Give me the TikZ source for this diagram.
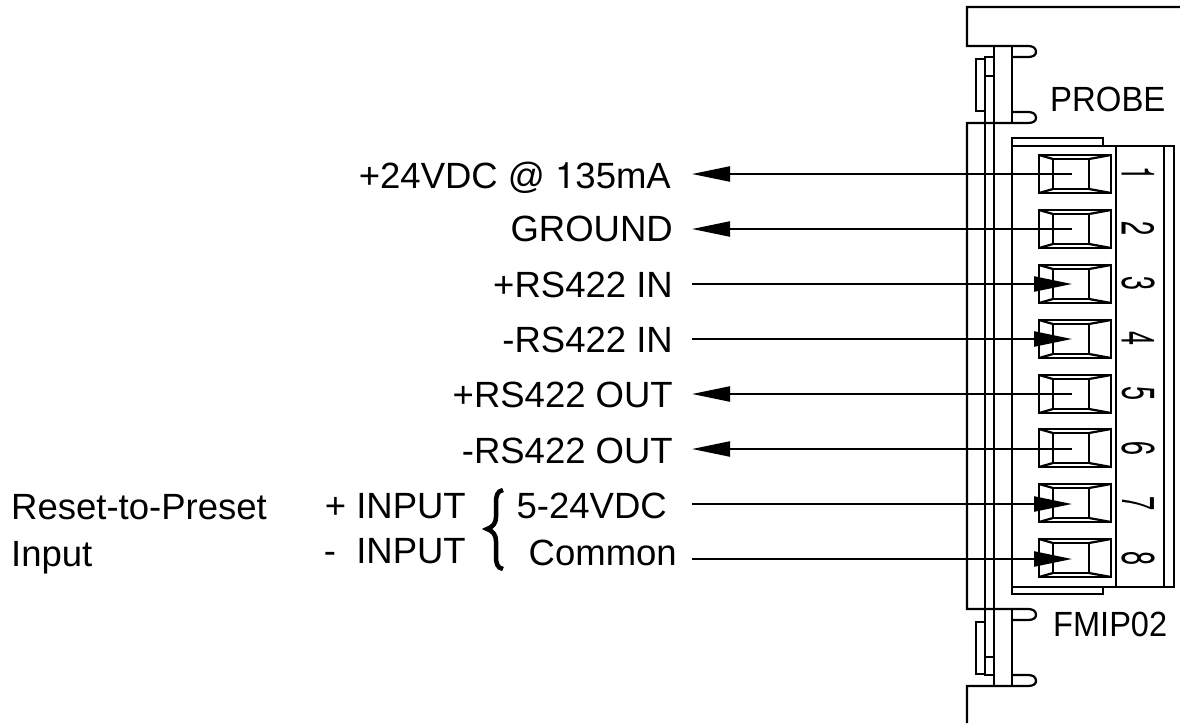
\documentclass[tikz,border=0pt]{standalone}
\usepackage{fontspec}
\setmainfont{Liberation Sans}
\newfontfamily\heros{TeX Gyre Heros}
\usetikzlibrary{arrows.meta}
\def\terminal#1{\begin{scope}[shift={(0,#1)}]
   \draw[part] (1039,0) rectangle (1111,38);
   \draw[part] (1053,4) rectangle (1089,34);
   \draw[part] (1039,0) -- (1053,4) (1111,0) -- (1089,4) (1039,38) -- (1053,34) (1111,38) -- (1089,34);
   \end{scope}}
\tikzset{part/.style={line width=2.2pt},
   wire/.style={line width=2.2pt},
   inarrow/.style={-{Triangle[length=38pt,width=15pt]}},
   lab/.style={anchor=base east,inner sep=0pt,font=\fontsize{36.5}{40}\selectfont},
   labl/.style={anchor=base west,inner sep=0pt,font=\fontsize{36.5}{40}\selectfont},
   board/.style={anchor=base west,inner sep=0pt,font=\fontsize{35}{38}\selectfont},
   digit/.style={rotate=-90,inner sep=0pt,font=\heros\fontsize{46}{48}\selectfont}}

\begin{document}
\begin{tikzpicture}[x=1pt,y=-1pt]
\useasboundingbox (0,0) rectangle (1180,723);
%
\draw[part] (1180,7) -- (967,7) -- (967,46) -- (1028,46) .. controls (1033,46) and (1036,48) .. (1036,52) .. controls (1036,55) and (1033,57) .. (1028,57) -- (1012,57);
\draw[part] (1012,112) -- (1028,112) .. controls (1033,112) and (1036,114) .. (1036,118) .. controls (1036,121) and (1033,123) .. (1028,123) -- (967,123) -- (967,609) -- (1028,609) .. controls (1033,609) and (1036,611) .. (1036,615) .. controls (1036,618) and (1033,620) .. (1028,620) -- (1012,620);
\draw[part] (1012,675) -- (1028,675) .. controls (1033,675) and (1036,677) .. (1036,681) .. controls (1036,684) and (1033,686) .. (1028,686) -- (967,686) -- (967,723);
\draw[part] (1012,46) -- (1012,123) (1012,609) -- (1012,686);
\draw[part] (994,46) -- (994,686);
\draw[part] (994,57) -- (985,57) -- (985,675) -- (994,675);
\draw[part] (985,76) -- (994,76) (985,657) -- (994,657);
\draw[part] (985,59) -- (976,59) -- (976,111) -- (985,111);
\draw[part] (985,622) -- (976,622) -- (976,674) -- (985,674);
%
\draw[part] (1012,146) -- (1012,138) -- (1103,138) -- (1103,146);
\draw[part] (1012,587) -- (1012,594) -- (1103,594) -- (1103,587);
\draw[part] (1012,146) rectangle (1174,587);
\draw[part] (1116,146) -- (1116,587) (1164,146) -- (1164,587);
%
\terminal{155}
\terminal{210}
\terminal{265}
\terminal{320}
\terminal{375}
\terminal{429}
\terminal{484}
\terminal{539}
%
\node [digit] at (1138,174) (n1) {\scalebox{0.55}[1]{1}};
\node [digit] at (1138,229) (n2) {\scalebox{0.55}[1]{2}};
\node [digit] at (1138,284) (n3) {\scalebox{0.55}[1]{3}};
\node [digit] at (1138,339) (n4) {\scalebox{0.55}[1]{4}};
\node [digit] at (1138,394) (n5) {\scalebox{0.55}[1]{5}};
\node [digit] at (1138,449) (n6) {\scalebox{0.55}[1]{6}};
\node [digit] at (1138,504) (n7) {\scalebox{0.55}[1]{7}};
\node [digit] at (1138,559) (n8) {\scalebox{0.55}[1]{8}};
%
\node [board] at (1050,111) (probe) {\scalebox{0.94}[1]{PROBE}};
\node [board] at (1053,636) (fmip) {\scalebox{0.93}[1]{FMIP02}};
\node [lab] at (671,188) (vdc) {+24VDC @ {\heros 1}35mA};
\node [lab] at (673,241) (gnd) {GROUND};
\node [lab] at (673,297) (inp) {+RS422 IN};
\node [lab] at (673,352) (inm) {-RS422 IN};
\node [lab] at (673,407) (outp) {+RS422 OUT};
\node [lab] at (673,463) (outm) {-RS422 OUT};
\node [lab] at (667,518) (five) {5-24VDC};
\node [lab] at (677,565) (com) {Common};
\node [lab] at (466,518) (plus) {+ INPUT};
\node [lab] at (466,563) (minus) {-\ \ INPUT};
\node [labl] at (11,519) (reset) {Reset-to-Preset};
\node [labl] at (11,566) (input) {Input};
%
\draw[line width=4.5pt] (503,490) .. controls (497,491) and (496,496) .. (496,503) -- (496,517) .. controls (496,523) and (493,527) .. (487,529) .. controls (493,531) and (496,535) .. (496,541) -- (496,556) .. controls (496,563) and (497,568) .. (503,569);
%
\coordinate (pin1) at (1072,174);
\coordinate (pin2) at (1072,229);
\coordinate (pin3) at (1072,284);
\coordinate (pin4) at (1072,339);
\coordinate (pin5) at (1072,394);
\coordinate (pin6) at (1072,449);
\coordinate (pin7) at (1072,504);
\coordinate (pin8) at (1072,559);
\coordinate (end1) at (692,174);
\coordinate (end2) at (692,229);
\coordinate (end3) at (692,284);
\coordinate (end4) at (692,339);
\coordinate (end5) at (692,394);
\coordinate (end6) at (692,449);
\coordinate (end7) at (692,504);
\coordinate (end8) at (692,559);
%
\path[wire,inarrow] (pin1) edge (end1);
\path[wire,inarrow] (pin2) edge (end2);
\path[wire,inarrow] (end3) edge (pin3);
\path[wire,inarrow] (end4) edge (pin4);
\path[wire,inarrow] (pin5) edge (end5);
\path[wire,inarrow] (pin6) edge (end6);
\path[wire,inarrow] (end7) edge (pin7);
\path[wire,inarrow] (end8) edge (pin8);
\end{tikzpicture}
\end{document}
